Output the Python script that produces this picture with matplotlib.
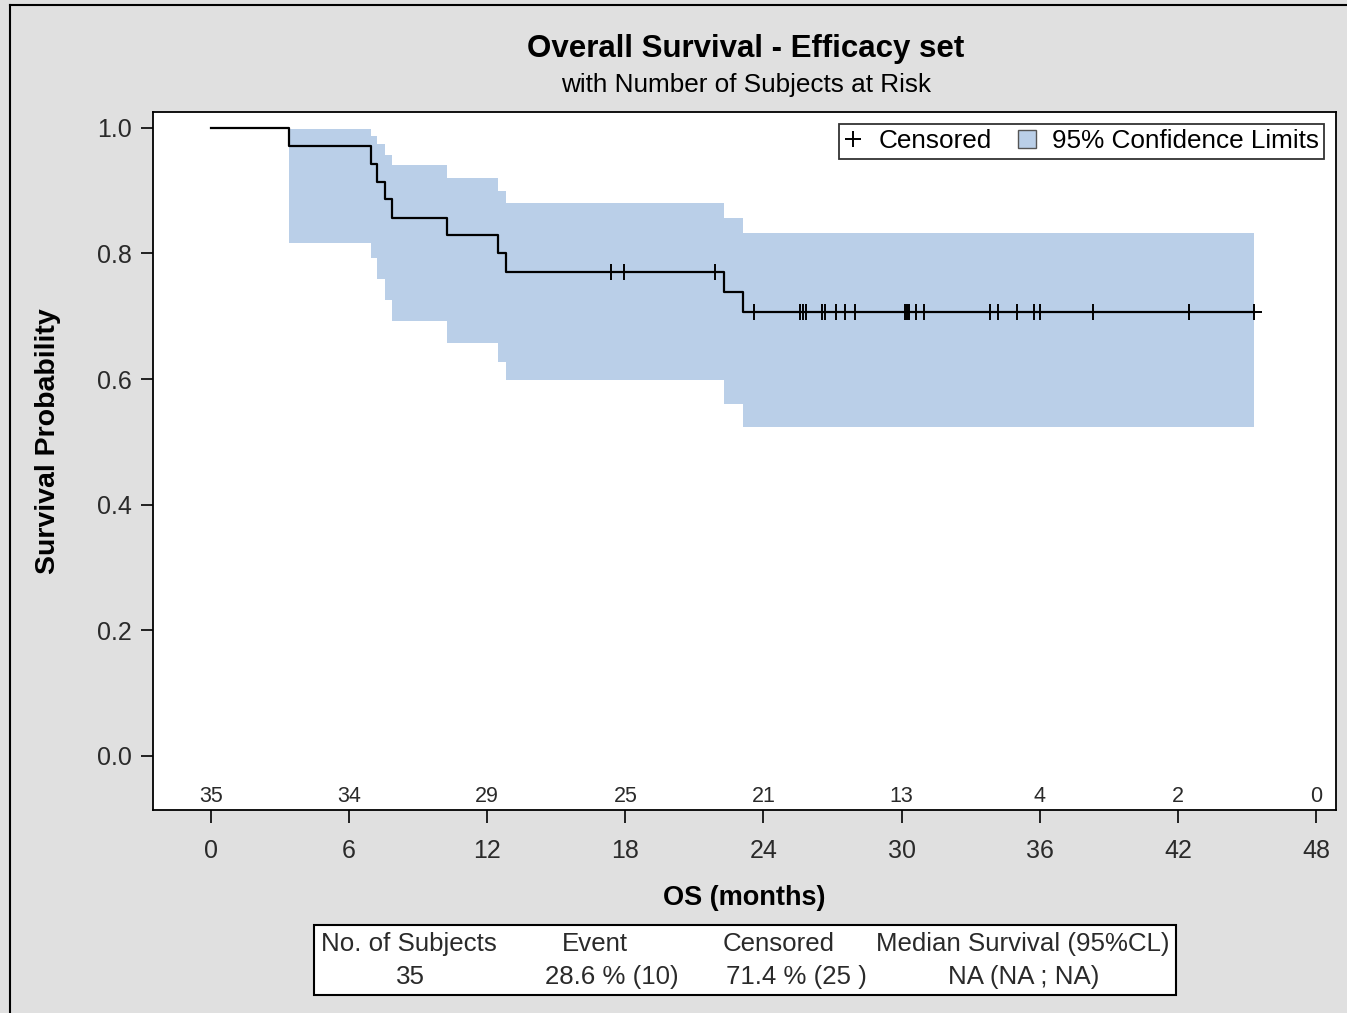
"""
Kaplan-Meier overall survival plot with at-risk counts and summary table
"""

import numpy as np
import matplotlib
matplotlib.use('Agg')
import matplotlib.pyplot as plt
import matplotlib.patches as mpatches
from matplotlib.lines import Line2D

plt.rcParams['font.family'] = ['Liberation Sans', 'DejaVu Sans']

# KM steps
event_times = [3.37, 6.94, 7.22, 7.57, 7.87, 10.26, 12.46, 12.82, 22.28, 23.10]
surv = [0.971, 0.943, 0.914, 0.886, 0.857, 0.829, 0.800, 0.771, 0.739, 0.706]
upper_cl = [0.998, 0.987, 0.974, 0.957, 0.940, 0.920, 0.900, 0.880, 0.856, 0.832]
lower_cl = [0.816, 0.792, 0.759, 0.725, 0.692, 0.658, 0.627, 0.598, 0.561, 0.524]
last_time = 45.32

censor_times = [17.37, 17.95, 21.91, 23.57, 25.60, 25.73, 25.83, 26.53, 26.69,
                27.15, 27.53, 27.98, 30.15, 30.22, 30.30, 30.63, 30.99, 33.85,
                34.19, 35.03, 35.77, 36.03, 38.33, 42.47, 45.32]

risk_times = [0, 6, 12, 18, 24, 30, 36, 42, 48]
at_risk = [35, 34, 29, 25, 21, 13, 4, 2, 0]

table_header = ['No. of Subjects', 'Event', 'Censored', 'Median Survival (95%CL)']
table_values = ['35', '28.6 % (10)', '71.4 % (25 )', 'NA (NA ; NA)']

band_color = '#BACFE8'
tick_color = '#2A2A2A'

fig = plt.figure(figsize=(13.47, 10.13), dpi=100, facecolor='#E0E0E0')
ax = fig.add_axes([153/1347, 1-810/1013, (1336-153)/1347, (810-112)/1013])

# step curve
t_line = [0] + event_times + [last_time]
s_line = [1.0] + surv + [surv[-1]]
ax.step(t_line, s_line, where='post', color='black', linewidth=1.6, zorder=3)

# confidence band
t_band = event_times + [last_time]
ax.fill_between(t_band, lower_cl + [lower_cl[-1]], upper_cl + [upper_cl[-1]],
                step='post', color=band_color, linewidth=0, zorder=1)

# censor marks sit on the curve
idx = np.searchsorted(event_times, censor_times, side='right')
s_all = np.array([1.0] + surv)
ax.plot(censor_times, s_all[idx], linestyle='none', marker='+', color='black',
        markersize=11, markeredgewidth=1.4, zorder=4)

# number at risk inside the plot
for t, n in zip(risk_times, at_risk):
    ax.text(t, -0.064, str(n), ha='center', va='center', fontsize=15.5,
            color=tick_color)

ax.set_xlim(-2.52, 48.87)
ax.set_ylim(-0.086, 1.025)
ax.set_xticks(range(0, 49, 6))
ax.set_yticks([0.0, 0.2, 0.4, 0.6, 0.8, 1.0])
ax.set_yticklabels(['0.0', '0.2', '0.4', '0.6', '0.8', '1.0'])
ax.tick_params(direction='out', length=9, width=1.2, labelsize=18,
               labelcolor=tick_color)
ax.tick_params(axis='x', pad=12)
ax.tick_params(axis='y', pad=6)
for sp in ax.spines.values():
    sp.set_linewidth(1.3)

ax.set_xlabel('OS (months)', fontsize=19.5, fontweight='bold', labelpad=16)
fig.text(48/1347, 1-441/1013, 'Survival Probability', rotation=90, ha='center',
         va='center', fontsize=20.5, fontweight='bold')

fig.text(746/1347, 1-49/1013, 'Overall Survival - Efficacy set', ha='center',
         va='center', fontsize=22.5, fontweight='bold')
fig.text(746/1347, 1-85/1013, 'with Number of Subjects at Risk', ha='center',
         va='center', fontsize=18.8)

# legend
handles = [Line2D([], [], linestyle='none', marker='+', color='black',
                  markersize=12, markeredgewidth=1.4),
           mpatches.Patch(facecolor=band_color, edgecolor='#555555', linewidth=1)]
leg = ax.legend(handles, ['Censored', '95% Confidence Limits'], ncol=2,
                loc='upper right', fontsize=18.8, frameon=True, fancybox=False,
                edgecolor='black', borderaxespad=0.45, handlelength=0.7,
                handletextpad=0.6, columnspacing=1.0, borderpad=0.22)
leg.get_frame().set_linewidth(1.3)

# summary table below the axis
tab = mpatches.Rectangle((314/1347, 1-995/1013), (1176-314)/1347, 70/1013,
                         transform=fig.transFigure, facecolor='white',
                         edgecolor='black', linewidth=1.5)
fig.add_artist(tab)
head_x = [409, 595, 779, 1023]
val_x = [410, 612, 796, 1024]
for hx, h in zip(head_x, table_header):
    fig.text(hx/1347, 1-944/1013, h, ha='center', va='center', fontsize=18.6,
             color=tick_color)
for vx, v in zip(val_x, table_values):
    fig.text(vx/1347, 1-977/1013, v, ha='center', va='center', fontsize=18.6,
             color=tick_color)

# outer frame on left and top
fig.add_artist(Line2D([10/1347, 10/1347], [0, 1-5/1013], color='black',
                      linewidth=1.5, transform=fig.transFigure))
fig.add_artist(Line2D([10/1347, 1], [1-5/1013, 1-5/1013], color='black',
                      linewidth=1.5, transform=fig.transFigure))

fig.savefig('out.png', dpi=100, facecolor=fig.get_facecolor())
